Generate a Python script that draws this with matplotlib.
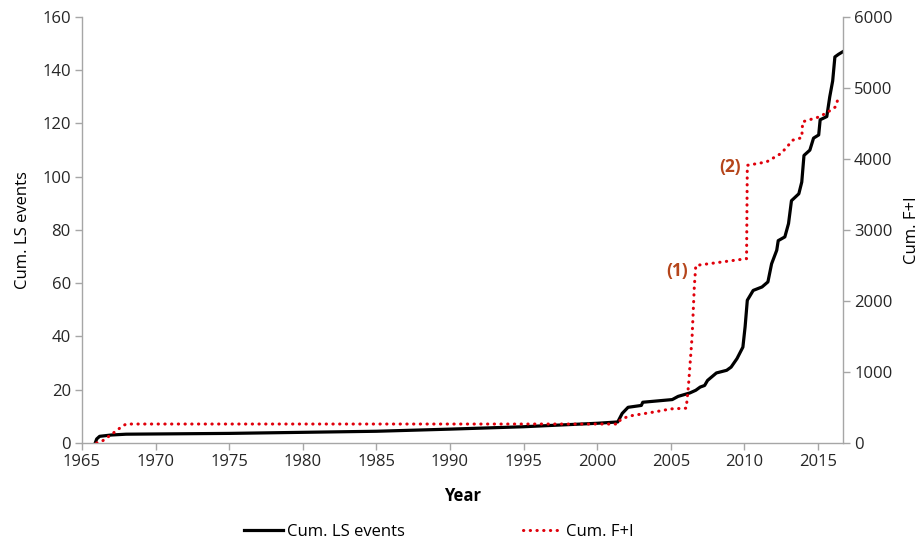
import numpy as np
import matplotlib
matplotlib.use("Agg")
import matplotlib.pyplot as plt
from matplotlib.lines import Line2D

plt.rcParams['font.family'] = ['Open Sans', 'DejaVu Sans']
plt.rcParams['font.size'] = 12

# ---------------------------------------------------------------
# Dados (ano, valor acumulado)
# ---------------------------------------------------------------
ls_years = [1965.9, 1966.0, 1966.2, 1967.0, 1968.0, 1975.0, 1980.0, 1985.0,
            1990.0, 1995.0, 2000.0, 2001.4, 2001.7, 2002.1, 2003.0, 2003.1,
            2005.1, 2005.5, 2006.3, 2006.7, 2007.0, 2007.3, 2007.5, 2008.1,
            2008.8, 2009.1, 2009.5, 2009.9, 2010.05, 2010.2, 2010.6, 2011.2,
            2011.6, 2011.85, 2012.2, 2012.3, 2012.75, 2013.0, 2013.2, 2013.7,
            2013.9, 2014.05, 2014.45, 2014.7, 2015.05, 2015.15, 2015.6, 2015.8,
            2016.0, 2016.15, 2016.4, 2016.7]
ls_cum = [0, 1.5, 2.5, 3.0, 3.3, 3.6, 4.0, 4.4,
          5.2, 6.1, 7.4, 7.9, 11.1, 13.4, 14.1, 15.3,
          16.3, 17.5, 18.8, 19.8, 21.0, 21.6, 23.5, 26.3,
          27.3, 28.5, 31.7, 36.0, 43.6, 53.6, 57.3, 58.6,
          60.5, 67.3, 72.4, 76.0, 77.4, 82.4, 91.0, 93.6,
          98.0, 108.0, 110.0, 114.5, 115.7, 121.4, 122.6, 130.0,
          136.0, 145.0, 146.0, 147.0]

fi_years = [1966.0, 1966.4, 1967.0, 1967.7, 1968.0, 2001.4, 2001.6, 2002.2,
            2004.0, 2005.0, 2006.05, 2006.2, 2006.45, 2006.6, 2006.7, 2010.15,
            2010.2, 2011.0, 2011.5, 2012.5, 2013.3, 2013.9, 2013.96, 2015.1,
            2015.7, 2016.2, 2016.4]
fi_cum = [0, 30, 120, 230, 267, 267, 333, 380,
          441, 480, 490, 800, 1500, 2200, 2500, 2596,
          3911, 3940, 3958, 4079, 4266, 4300, 4524, 4594,
          4665, 4735, 4876]

x_ticks = list(range(1965, 2016, 5))
left_ticks = list(range(0, 161, 20))
right_ticks = list(range(0, 6001, 1000))

# ---------------------------------------------------------------
# Figura
# ---------------------------------------------------------------
fig = plt.figure(figsize=(9.22, 5.43), dpi=100)
ax1 = fig.add_axes([0.0889, 0.1842, 0.9143 - 0.0889, 0.9687 - 0.1842])
ax2 = ax1.twinx()

cinza = '#a6a6a6'
vermelho = '#e0000b'
pontilhado = (0, (0.1, 2.1))

ax1.plot(ls_years, ls_cum, color='black', lw=2.3, solid_joinstyle='round')
ax2.plot(fi_years, fi_cum, color=vermelho, lw=2.2,
         linestyle=pontilhado, dash_capstyle='round')

ax1.set_xlim(1965, 2016.7)
ax1.set_ylim(0, 160)
ax2.set_ylim(0, 6000)
ax1.set_xticks(x_ticks)
ax1.set_yticks(left_ticks)
ax2.set_yticks(right_ticks)

for ax in (ax1, ax2):
    ax.spines['top'].set_visible(False)
    for s in ('left', 'right', 'bottom'):
        ax.spines[s].set_color(cinza)
        ax.spines[s].set_linewidth(1.0)
    ax.tick_params(colors=cinza, labelcolor='#262626', length=5, width=1.0,
                   labelsize=12, pad=3)
ax1.spines['right'].set_visible(False)
ax2.spines['left'].set_visible(False)
ax2.spines['bottom'].set_visible(False)

ax1.set_xlabel('Year', fontweight='bold', fontsize=12, labelpad=12)
ax1.set_ylabel('Cum. LS events', fontsize=12, labelpad=8)
ax2.set_ylabel('Cum. F+I', fontsize=12, labelpad=8)

# anotações dos eventos marcantes
marrom = '#b5451b'
ax2.text(2006.2, 2420, '(1)', color=marrom, fontweight='bold', fontsize=12.5,
         ha='right', va='center')
ax2.text(2009.75, 3890, '(2)', color=marrom, fontweight='bold', fontsize=12.5,
         ha='right', va='center')

handles = [Line2D([], [], color='black', lw=2.3),
           Line2D([], [], color=vermelho, lw=2.2, linestyle=pontilhado,
                  dash_capstyle='round')]
fig.legend(handles, ['Cum. LS events', 'Cum. F+I'], loc='center',
           bbox_to_anchor=(0.476, 0.02), ncol=2, frameon=False,
           handlelength=2.3, handletextpad=0.25, columnspacing=7.1, fontsize=12)

fig.savefig('out.png', dpi=100, facecolor='white')
